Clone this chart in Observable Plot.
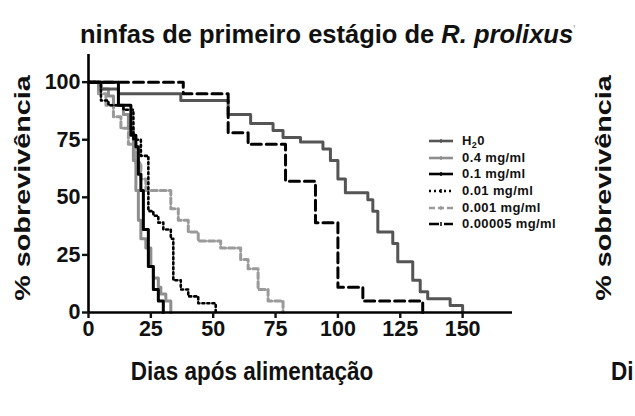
<!DOCTYPE html>
<html><head><meta charset="utf-8">
<script src="https://cdn.jsdelivr.net/npm/d3@7"></script>
<script src="https://cdn.jsdelivr.net/npm/@observablehq/plot@0.6"></script>
<style>
html,body{margin:0;padding:0;background:#fff;}
body{width:635px;height:416px;overflow:hidden;position:relative;font-family:"Liberation Sans",Arial,sans-serif;color:#111;}
#title{position:absolute;left:80px;top:14px;font-size:25.5px;font-weight:bold;white-space:nowrap;line-height:30px;}
#chart{position:absolute;left:0;top:50px;}
.lbl{position:absolute;white-space:nowrap;font-size:22.5px;font-weight:bold;line-height:26px;color:#111;}
#legend{position:absolute;left:428px;top:133px;font-size:13px;font-weight:bold;line-height:14px;letter-spacing:0.4px;}
#legend div{display:flex;align-items:center;height:16.6px;}
#legend svg{margin-right:8px;}
</style></head><body>
<div id="title">ninfas de primeiro estágio de <i>R. prolixus</i><sup style="font-size:11px;color:#999;font-weight:normal">'</sup></div>
<div id="chart"></div>
<div class="lbl" id="ylab" style="left:23px;top:188px;transform:translate(-50%,-50%) scaleY(1.28) rotate(-90deg);">% sobrevivência</div>
<div class="lbl" id="xlab" style="left:252px;top:372px;transform:translate(-50%,-50%) scaleY(1.15);">Dias após alimentação</div>
<div class="lbl" style="left:604px;top:188px;transform:translate(-50%,-50%) scaleY(1.28) rotate(-90deg);">% sobrevivência</div>
<div class="lbl" style="left:611px;top:372px;transform:translateY(-50%) scaleY(1.15);">Di</div>
<div id="legend"></div>
<script>
const xTicks = [0, 25, 50, 75, 100, 125, 150];
const yTicks = [0, 25, 50, 75, 100];
const seriesNames = ["H\u20820", "0.4 mg/ml", "0.1 mg/ml", "0.01 mg/ml", "0.001 mg/ml", "0.00005 mg/ml"];

const daysH2O  = [0,5,12,37,56,65,74,78,85,94,97,100,103,112,114,116,122,124,130,133,136,145,150];
const survH2O  = [100,97,95,92,86,82,79,76,74,71,66,58,52,49,44,35,30,22,14,9,6,3,0];
const days04   = [0,4,8,10,14,16,18,19,20,21,23,25,26,28,29,31,33];
const surv04   = [100,97,94,90,86,80,66,53,40,32,28,20,15,11,8,5,0];
const days01   = [0,12,17,19,20,21,22,24,26,28,30];
const surv01   = [100,90,77,72,60,53,36,20,10,5,0];
const days001  = [0,5,8,14,18,21,24,26,28,30,33,34,37,40,44,51];
const surv001  = [100,92,90,88,75,68,44,42,39,36,32,14,10,7,4,0];
const days0001 = [0,4,7,10,13,16,19,21,23,33,36,40,44,53,61,64,68,72,78];
const surv0001 = [100,95,90,85,80,73,65,58,53,45,40,35,31,28,23,19,10,5,0];
const days00005 = [0,38,56,64,79,91,100,110,134];
const surv00005 = [100,95,78,73,57,39,11,5,0];

const styles = [
  {stroke:"#555", w:3, dash:null},
  {stroke:"#8e8e8e", w:3, dash:null},
  {stroke:"#000", w:3, dash:null},
  {stroke:"#000", w:2.6, dash:"2,3"},
  {stroke:"#9a9a9a", w:3, dash:"6,3"},
  {stroke:"#000", w:3, dash:"10,5"}
];
const dayArrays = [daysH2O, days04, days01, days001, days0001, days00005];
const survArrays = [survH2O, surv04, surv01, surv001, surv0001, surv00005];

const rows = seriesNames.flatMap((s, i) => dayArrays[i].map((d, j) => ({series: s, day: d, surv: survArrays[i][j]})));
const drawOrder = [4, 1, 0, 2, 3, 5];

const plot = Plot.plot({
  width: 635, height: 366,
  marginLeft: 88, marginRight: 123, marginTop: 4, marginBottom: 104,
  style: {fontFamily: "'Liberation Sans', Arial, sans-serif", color: "#111", overflow: "visible"},
  x: {domain: [0, 170], ticks: xTicks},
  y: {domain: [0, 112], ticks: yTicks},
  marks: [
    ...drawOrder.map(i => Plot.lineY(rows.filter(r => r.series === seriesNames[i]), {
      x: "day", y: "surv", curve: "step-after",
      stroke: styles[i].stroke, strokeWidth: styles[i].w, strokeDasharray: styles[i].dash
    })),
    Plot.ruleX([0], {stroke: "#000", strokeWidth: 2.6}),
    Plot.ruleY([0], {stroke: "#000", strokeWidth: 2.6}),
    Plot.axisX({ticks: xTicks, tickSize: 6, tickPadding: 2, fontSize: 21.5, fontWeight: "bold", strokeWidth: 2.4, label: null}),
    Plot.axisY({ticks: yTicks, tickSize: 6, tickPadding: 2, fontSize: 21.5, fontWeight: "bold", strokeWidth: 2.4, label: null})
  ]
});
document.getElementById("chart").appendChild(plot);

const leg = document.getElementById("legend");
seriesNames.forEach((s, i) => {
  const st = styles[i];
  const row = document.createElement("div");
  row.innerHTML = `<svg width="26" height="8"><line x1="1" y1="4" x2="25" y2="4" stroke="${st.stroke}" stroke-width="2.6" ${st.dash ? `stroke-dasharray="${st.dash}"` : ""}/><line x1="13" y1="2" x2="13" y2="6" stroke="${st.stroke}" stroke-width="1.5"/></svg><span>${i === 0 ? "H<span style='font-size:9px;position:relative;top:3px'>2</span>0" : s}</span>`;
  leg.appendChild(row);
});
</script>
</body></html>
